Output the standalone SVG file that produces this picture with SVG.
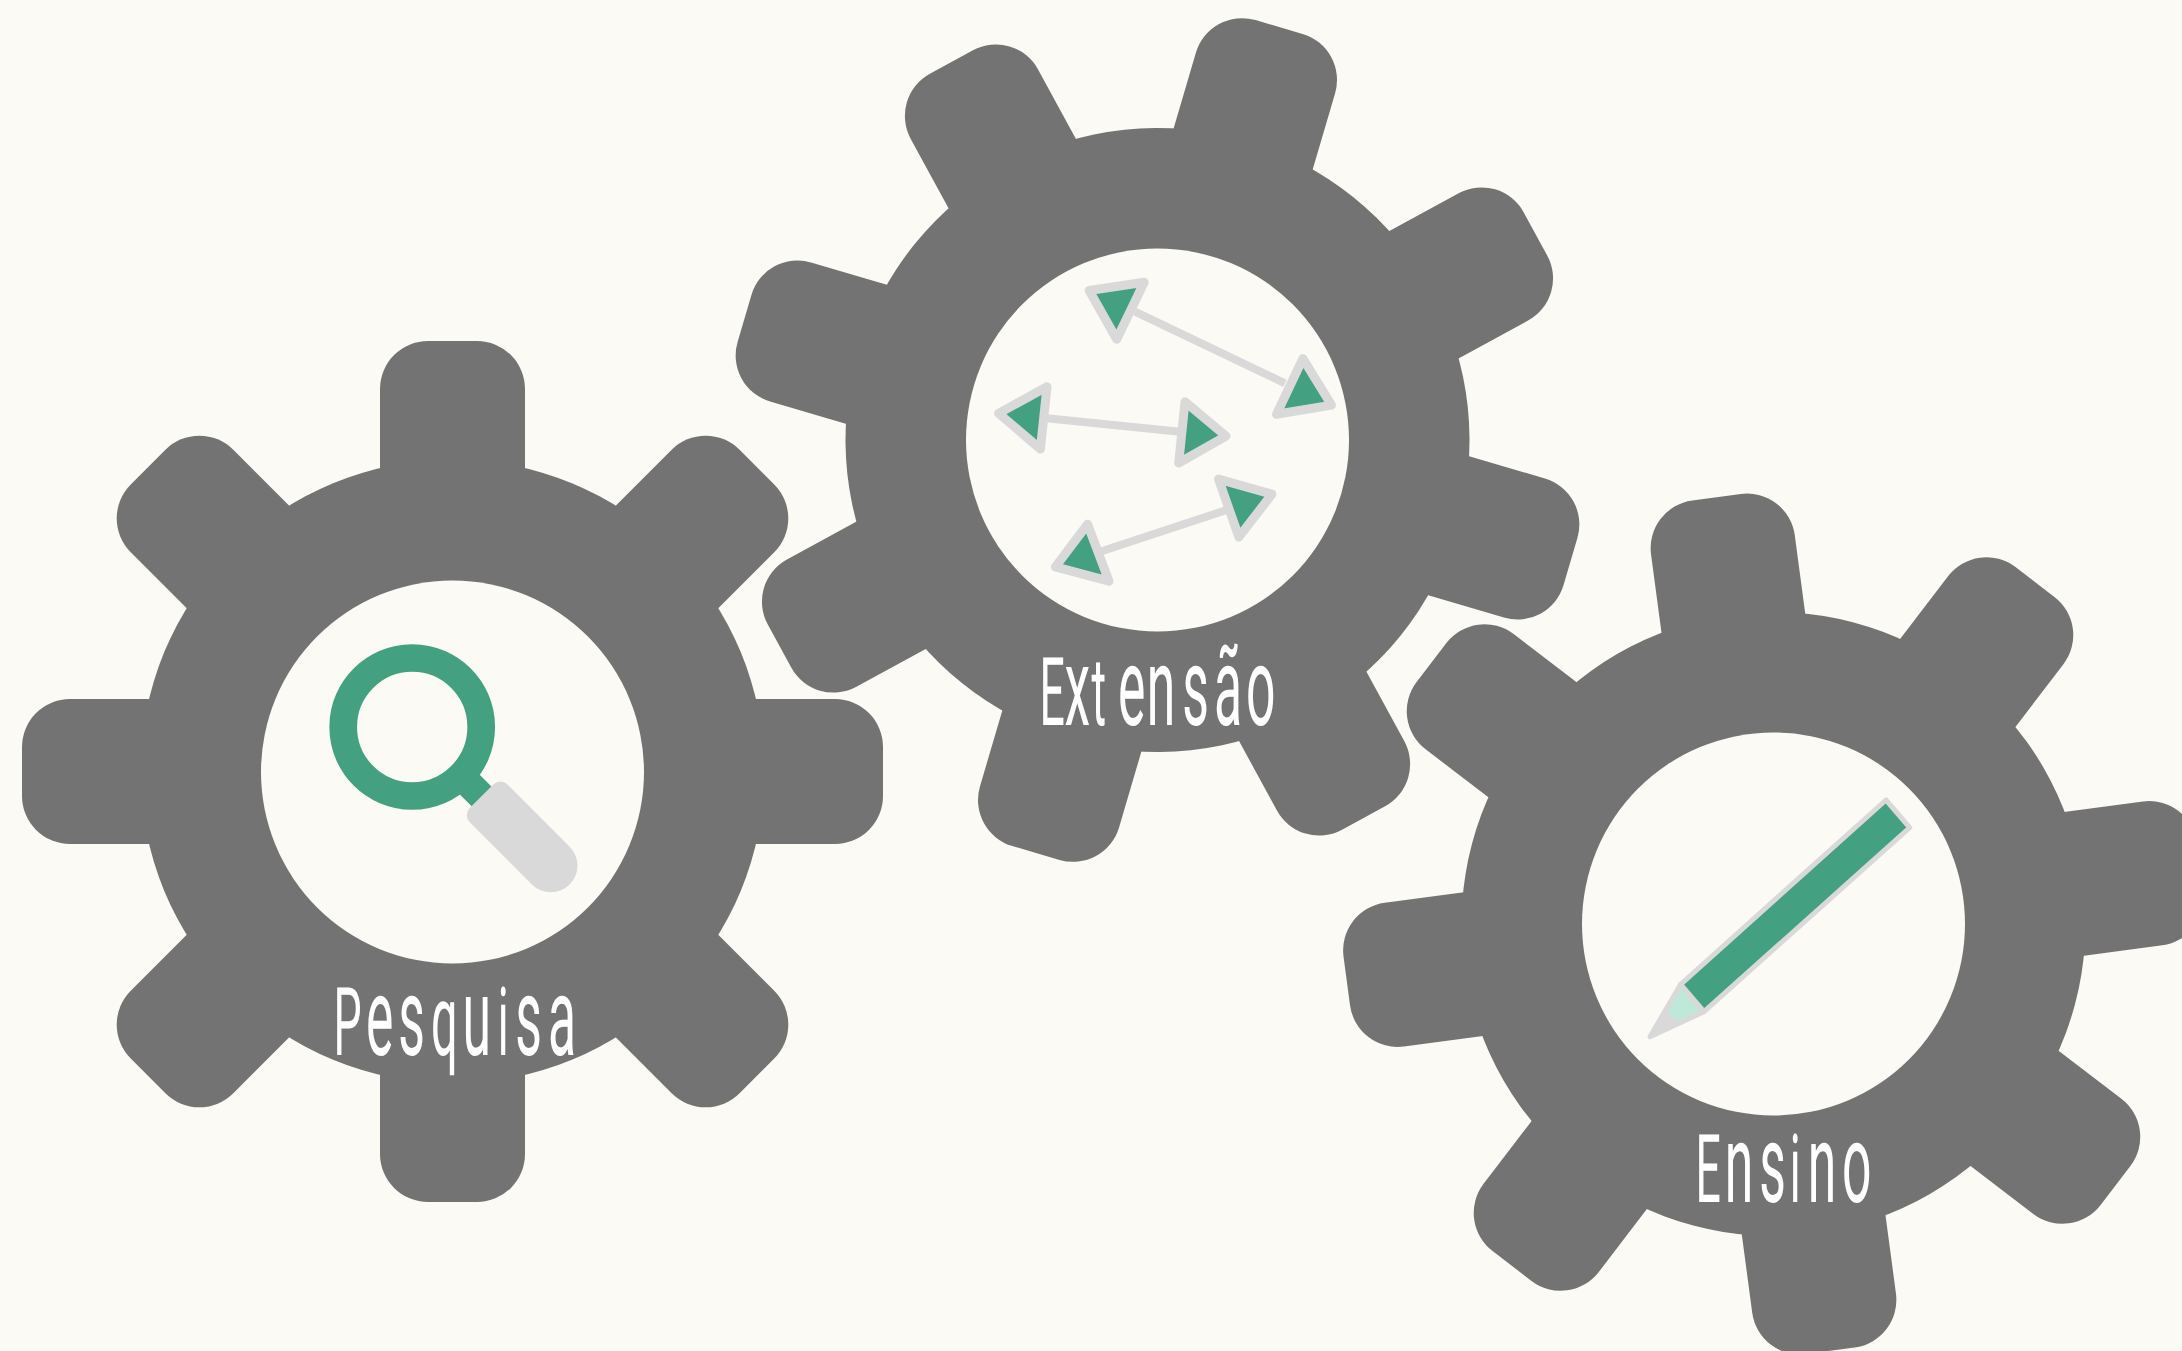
<svg xmlns="http://www.w3.org/2000/svg" width="2182" height="1351" viewBox="0 0 2182 1351">
  <style>
    .gear { fill: #737373; }
    .hole { fill: #fbfaf5; }
    .lb { font-family: Roboto, "Liberation Sans", Arial, sans-serif; font-weight: 400; font-size: 95px; fill: #ffffff; text-rendering: geometricPrecision; }
    .l { font-size: 110px; }
    .q { font-size: 100px; }
    .shaft { stroke: #d9d9d9; stroke-width: 8; fill: none; }
    .tri { fill: #43a081; stroke: #d9d9d9; stroke-width: 9; stroke-linejoin: round; }
  </style>
  <defs>
    <g id="gearShape" class="gear">
      <circle r="312"/>
      <rect x="-72.5" y="-430.5" width="145" height="861" rx="48"/>
      <rect x="-72.5" y="-430.5" width="145" height="861" rx="48" transform="rotate(45)"/>
      <rect x="-72.5" y="-430.5" width="145" height="861" rx="48" transform="rotate(90)"/>
      <rect x="-72.5" y="-430.5" width="145" height="861" rx="48" transform="rotate(135)"/>
    </g>
  </defs>
  <rect width="2182" height="1351" fill="#fbfaf5"/>

  <g id="pesquisa">
    <use href="#gearShape" transform="translate(452.5 771.5)"/>
    <circle class="hole" cx="452.5" cy="772" r="191.5"/>
    <g transform="translate(412.2 727) rotate(45)">
      <rect x="60" y="-14" width="50" height="28" fill="#43a081"/>
      <circle r="69" fill="none" stroke="#43a081" stroke-width="27.7"/>
      <path d="M108 -26.7H196a26.7 26.7 0 0 1 0 53.4H108a10 10 0 0 1 -10 -10V-16.7a10 10 0 0 1 10 -10Z" fill="#d9d9d9"/>
    </g>
    <text class="lb" y="1055" transform="scale(.47 1)"><tspan x="709.8">P</tspan><tspan class="l" x="778.7">e</tspan><tspan class="l" x="847.4">s</tspan><tspan class="q" x="917">q</tspan><tspan class="l" x="984.3">u</tspan><tspan x="1059.1">i</tspan><tspan class="l" x="1096.4">s</tspan><tspan class="l" x="1166">a</tspan></text>
  </g>

  <g id="extensao">
    <use href="#gearShape" transform="translate(1157.5 440) rotate(16.4)"/>
    <circle class="hole" cx="1157.5" cy="440" r="191.5"/>
    <line class="shaft" x1="1135" y1="311.7" x2="1285" y2="383.3"/>
    <line class="shaft" x1="1046.7" y1="418.3" x2="1180" y2="431.7"/>
    <line class="shaft" x1="1100" y1="551.7" x2="1226.7" y2="510"/>
    <polygon class="tri" points="1089.2,290.5 1144.2,282.3 1116.7,339.2"/>
    <polygon class="tri" points="1302.9,358.6 1331.5,405.1 1276.5,414.3"/>
    <polygon class="tri" points="998.6,413.4 1047,386.8 1040.4,449"/>
    <polygon class="tri" points="1226,436.1 1185,401.8 1178.7,463"/>
    <polygon class="tri" points="1218.5,479.1 1271.9,494.2 1238.9,537.1"/>
    <polygon class="tri" points="1087.6,524.3 1109,581.2 1055.4,566.9"/>
    <text class="lb" y="725" transform="scale(.47 1)"><tspan x="2211.9">E</tspan><tspan class="l" x="2264.9">x</tspan><tspan x="2322.1">t</tspan><tspan class="l" x="2378.7">e</tspan><tspan class="l" x="2439.8">n</tspan><tspan class="l" x="2515.5">s</tspan><tspan class="l" x="2583">ã</tspan><tspan class="l" x="2651.1">o</tspan></text>
  </g>

  <g id="ensino">
    <use href="#gearShape" transform="translate(1773.5 924) rotate(-7.6)"/>
    <circle class="hole" cx="1773.5" cy="924" r="191.5"/>
    <polygon points="1680.7,984.3 1704,1011.7 1650,1036.7" fill="#bfe8d9" stroke="#d9d9d9" stroke-width="5" stroke-linejoin="round"/>
    <polygon points="1650,1036.7 1665,1011 1675,1022.7" fill="#d9d9d9" stroke="#d9d9d9" stroke-width="4" stroke-linejoin="round"/>
    <polygon points="1886,800 1909.7,827.7 1704,1011.7 1680.7,984.3" fill="#43a081" stroke="#d9d9d9" stroke-width="5" stroke-linejoin="round"/>
    <text class="lb" y="1202" transform="scale(.47 1)"><tspan x="3607.7">E</tspan><tspan class="l" x="3669.6">n</tspan><tspan class="l" x="3743.2">s</tspan><tspan x="3808">i</tspan><tspan class="l" x="3846.2">n</tspan><tspan class="l" x="3919.1">o</tspan></text>
  </g>
</svg>
